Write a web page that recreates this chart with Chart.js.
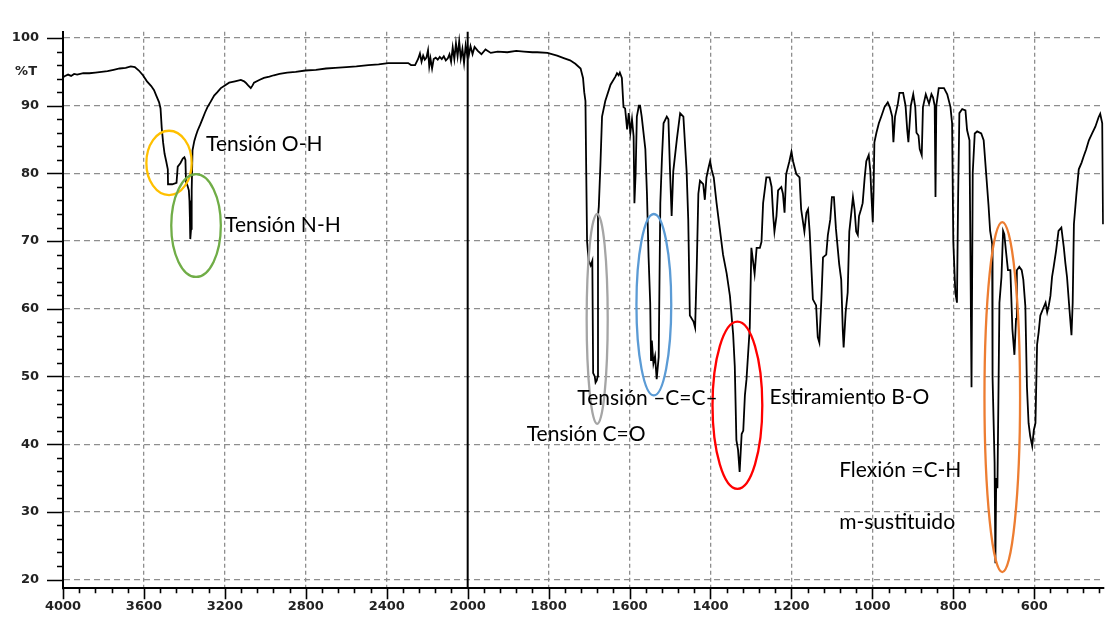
<!DOCTYPE html>
<html>
<head>
<meta charset="utf-8">
<script src="https://cdn.jsdelivr.net/npm/chart.js@4.4.1/dist/chart.umd.min.js"></script>
<style>
  html, body { margin: 0; padding: 0; background: #fff; }
  canvas { display: block; }
</style>
</head>
<body>
<canvas id="ir" width="1110" height="620"></canvas>
<script>
// IR spectrum: wavenumber (cm-1) and transmittance (%T)
const wavenumbers = [
  4000, 3990, 3975, 3960, 3945, 3930, 3900, 3870, 3840, 3810, 3780, 3750, 3720, 3690, 3665, 3645, 3625, 3605, 3585, 3564,
  3550, 3539, 3525, 3518, 3512, 3505, 3498, 3490, 3482, 3481, 3460, 3439, 3433, 3420, 3408, 3400, 3395, 3392, 3385, 3378,
  3375, 3373, 3371, 3367, 3364, 3360, 3351, 3343, 3335, 3322, 3310, 3298, 3286, 3270, 3253, 3237, 3220, 3200, 3179, 3150,
  3121, 3105, 3097, 3085, 3072, 3063, 3056, 3030, 3007, 2980, 2958, 2930, 2892, 2850, 2802, 2750, 2700, 2655, 2600, 2550,
  2491, 2440, 2393, 2294, 2280, 2260, 2245, 2236, 2228, 2220, 2212, 2204, 2196, 2190, 2184, 2176, 2168, 2158, 2148, 2138,
  2128, 2118, 2108, 2098, 2090, 2082, 2074, 2066, 2058, 2050, 2042, 2034, 2026, 2018, 2010, 2004, 2000,
  1997, 1993, 1988, 1983, 1975, 1966, 1956, 1943, 1926, 1902, 1880, 1861, 1840, 1828, 1803, 1779, 1761, 1747, 1734, 1721,
  1715, 1712, 1709, 1707, 1705, 1701, 1696, 1692, 1690, 1686, 1684, 1681, 1679, 1678, 1676, 1672, 1668, 1660, 1647, 1635,
  1631, 1627, 1624, 1619, 1615, 1611, 1606, 1602, 1598, 1594, 1590, 1588, 1585, 1582, 1577, 1574, 1570, 1561, 1557, 1553,
  1549, 1547, 1545, 1541, 1537, 1533, 1528, 1524, 1520, 1516, 1508, 1504, 1500, 1496, 1492, 1483, 1475, 1467, 1459, 1455,
  1451, 1442, 1438, 1434, 1430, 1426, 1418, 1414, 1410, 1405, 1401, 1397, 1392, 1385, 1377, 1369, 1360, 1352, 1344, 1340,
  1336, 1332, 1328, 1323, 1319, 1315, 1311, 1303, 1299, 1291, 1286, 1278, 1274, 1270, 1262, 1254, 1249, 1245, 1242, 1237,
  1233, 1225, 1221, 1217, 1213, 1205, 1200, 1196, 1188, 1180, 1176, 1168, 1163, 1159, 1155, 1147, 1139, 1135, 1131, 1126,
  1122, 1114, 1110, 1104, 1100, 1095, 1090, 1082, 1077, 1073, 1071, 1066, 1061, 1057, 1052, 1048, 1044, 1040, 1036, 1033,
  1028, 1024, 1019, 1015, 1009, 1005, 1003, 999, 997, 995, 990, 984, 978, 970, 962, 957, 951, 948, 944, 937,
  933, 924, 918, 914, 911, 905, 899, 894, 891, 886, 883, 878, 875, 868, 860, 854, 850, 846, 844, 842,
  836, 823, 815, 807, 803, 800, 795, 791, 788, 785, 778, 770, 766, 760, 755, 752, 747, 741, 731, 725,
  719, 713, 709, 704, 703, 698, 696, 694, 691, 688, 686, 681, 677, 674, 670, 665, 659, 654, 649, 645,
  643, 637, 631, 627, 622, 618, 614, 610, 605, 601, 597, 593, 589, 585, 579, 572, 568, 564, 560, 556,
  552, 546, 540, 533, 527, 523, 519, 513, 508, 505, 502, 496, 490, 483, 478, 472, 465, 457, 449, 441,
  437, 432, 430
];
const transmittance = [
  94.2, 94.4, 94.6, 94.4, 94.7, 94.6, 94.8, 94.8, 94.9, 95.0, 95.1, 95.3, 95.5, 95.6, 95.8, 95.7, 95.2, 94.5, 93.6, 92.9,
  92.3, 91.5, 90.5, 89.6, 86.7, 84.5, 82.9, 81.8, 80.6, 78.4, 78.4, 78.6, 81.0, 81.5, 82.2, 82.4, 82.0, 78.7, 78.2, 77.5,
  76.0, 73.5, 70.3, 71.8, 77.5, 83.4, 84.8, 85.6, 86.3, 87.2, 88.1, 89.0, 89.8, 90.6, 91.5, 92.0, 92.6, 93.0, 93.4, 93.6,
  93.8, 93.6, 93.4, 93.0, 92.6, 93.0, 93.4, 93.8, 94.1, 94.3, 94.5, 94.7, 94.9, 95.0, 95.2, 95.3, 95.5, 95.6, 95.7, 95.8,
  96.0, 96.1, 96.3, 96.3, 96.0, 96.0, 96.9, 97.7, 96.5, 97.4, 96.8, 97.1, 98.2, 95.8, 97.0, 95.5, 96.9, 97.1, 96.8, 97.2,
  96.9, 97.3, 96.7, 97.0, 97.6, 96.5, 98.6, 96.9, 99.2, 97.3, 99.5, 97.0, 98.4, 96.3, 98.9, 97.8, 98.6,
  97.5, 98.8, 97.6, 98.7, 98.1, 97.6, 98.3, 97.8, 98.0, 97.9, 98.1, 98.0, 97.9, 97.9, 97.8, 97.4, 97.0, 96.7, 96.2, 95.5,
  94.1, 92.0, 90.7, 80.0, 69.9, 67.1, 66.4, 67.1, 50.5, 50.0, 49.1, 49.4, 50.0, 73.7, 75.1, 81.3, 88.4, 90.7, 93.1, 94.3,
  94.8, 94.5, 94.9, 94.1, 89.8, 89.6, 86.5, 88.9, 86.0, 88.0, 85.5, 75.6, 80.0, 88.4, 90.0, 90.0, 88.4, 83.6, 77.0, 67.6,
  60.9, 52.4, 55.3, 51.9, 53.0, 49.6, 52.9, 75.6, 82.2, 87.4, 88.4, 88.0, 80.3, 73.7, 80.3, 85.1, 88.9, 88.4, 80.3, 73.2,
  59.0, 58.1, 57.2, 66.1, 77.0, 78.9, 78.4, 76.1, 79.4, 80.8, 81.8, 80.5, 79.4, 75.6, 71.8, 68.0, 65.2, 61.9, 56.2, 51.5,
  40.6, 39.2, 35.9, 41.5, 42.0, 47.2, 49.6, 57.2, 69.0, 65.2, 69.0, 69.0, 69.9, 75.6, 79.4, 79.4, 78.0, 73.7, 71.4, 73.7,
  77.5, 78.0, 77.0, 74.2, 79.9, 81.8, 83.2, 81.8, 79.9, 79.4, 74.7, 71.4, 74.2, 74.7, 71.4, 61.4, 60.5, 55.8, 55.0, 61.4,
  67.6, 68.0, 70.9, 73.2, 76.5, 76.5, 71.8, 66.6, 64.3, 56.7, 54.3, 59.5, 62.4, 71.4, 74.2, 76.5, 74.7, 71.4, 70.9, 73.7,
  74.7, 75.6, 79.4, 81.8, 82.7, 80.3, 77.5, 72.8, 77.5, 84.6, 86.0, 87.4, 88.4, 89.8, 90.5, 89.8, 88.4, 84.6, 88.4, 90.3,
  91.9, 91.9, 90.0, 86.5, 84.6, 90.0, 91.7, 89.8, 86.0, 85.6, 83.6, 82.7, 89.8, 91.7, 90.3, 91.7, 91.2, 90.0, 76.5, 90.0,
  92.6, 92.6, 91.7, 89.8, 87.4, 69.9, 62.4, 60.9, 77.0, 88.9, 89.5, 89.3, 86.4, 84.9, 48.4, 80.1, 85.9, 86.2, 85.9, 84.9,
  80.1, 75.3, 71.5, 69.6, 49.8, 37.3, 22.4, 35.0, 33.5, 49.8, 60.9, 64.7, 71.5, 71.0, 68.6, 65.7, 65.7, 57.0, 53.2, 58.5,
  65.7, 66.2, 65.7, 64.3, 60.4, 48.4, 43.1, 41.2, 39.7, 42.1, 43.1, 54.7, 56.6, 59.0, 59.9, 60.9, 59.5, 60.5, 61.9, 64.7,
  66.2, 68.6, 71.5, 72.0, 69.1, 66.7, 64.7, 59.9, 56.1, 60.9, 72.5, 76.8, 80.6, 81.6, 82.5, 83.5, 84.9, 85.9, 86.9, 88.3,
  88.8, 87.4, 72.5
];

// Labelled ticks
const xMajorTicks = [4000, 3600, 3200, 2800, 2400, 2000, 1800, 1600, 1400, 1200, 1000, 800, 600];
const yMajorTicks = [20, 30, 40, 50, 60, 70, 80, 90, 100];

// Band assignments: ellipse bounds in cm-1 / %T
const bandCircles = [
  { from: 3588, to: 3364, top: 86.3, bottom: 76.8, color: '#FFC000' },
  { from: 3465, to: 3220, top: 79.9, bottom: 64.7, color: '#70AD47' },
  { from: 1706, to: 1654, top: 74.0, bottom: 43.0, color: '#A5A5A5' },
  { from: 1583, to: 1497, top: 74.0, bottom: 47.2, color: '#5B9BD5' },
  { from: 1395, to: 1272, top: 58.1, bottom: 33.4, color: '#FF0000' },
  { from: 723,  to: 635,  top: 72.8, bottom: 21.1, color: '#ED7D31' }
];
const bandLabels = [
  { text: 'Tensión O-H',      wn: 3293, t: 83.3 },
  { text: 'Tensión N-H',      wn: 3199, t: 71.4 },
  { text: 'Tensión –C=C–',    wn: 1729, t: 45.8 },
  { text: 'Tensión C=O',      wn: 1854, t: 40.4 },
  { text: 'Estiramiento B-O', wn: 1254, t: 45.9 },
  { text: 'Flexión =C-H',     wn: 1082, t: 35.1 },
  { text: 'm-sustituido',     wn: 1082, t: 27.5 }
];

// The wavenumber axis doubles its scale below 2000 cm-1
const BREAK = 2000;
const toAxis = wn => wn >= BREAK ? 4000 - wn : BREAK + 2 * (BREAK - wn);
const fromAxis = v => v <= BREAK ? 4000 - v : BREAK - (v - BREAK) / 2;
const X_END = 428;

const xTickWn = [];
for (let w = 4000; w >= BREAK; w -= 80) xTickWn.push(w);
for (let w = BREAK - 40; w >= 440; w -= 40) xTickWn.push(w);
const yTickValues = [];
for (let v = 20; v <= 100; v += 2) yTickValues.push(v);

const isMajorX = v => xMajorTicks.includes(Math.round(fromAxis(v)));
const isMajorY = v => yMajorTicks.includes(Math.round(v));

const GRID = '#8e8e8e';
const tickFont = { family: 'DejaVu Sans', size: 13, weight: 'bold' };

const axisDecor = {
  id: 'axisDecor',
  beforeDatasetsDraw(chart) {
    const { ctx, chartArea, scales: { x } } = chart;
    const px = x.getPixelForValue(toAxis(BREAK));
    ctx.save();
    ctx.strokeStyle = '#000';
    ctx.lineWidth = 2;
    ctx.beginPath();
    ctx.moveTo(px, chartArea.top);
    ctx.lineTo(px, chartArea.bottom);
    ctx.stroke();
    ctx.restore();
  },
  afterDraw(chart) {
    const { ctx, chartArea, scales: { x, y } } = chart;
    ctx.save();
    ctx.strokeStyle = '#000';
    ctx.lineWidth = 1.6;
    ctx.beginPath();
    x.ticks.forEach(t => {
      const px = Math.round(x.getPixelForValue(t.value)) + 0.5;
      const len = isMajorX(t.value) ? 11 : 5;
      ctx.moveTo(px, chartArea.bottom);
      ctx.lineTo(px, chartArea.bottom + len);
    });
    y.ticks.forEach(t => {
      const py = Math.round(y.getPixelForValue(t.value)) + 0.5;
      const len = isMajorY(t.value) ? 16 : 6;
      ctx.moveTo(chartArea.left, py);
      ctx.lineTo(chartArea.left - len, py);
    });
    ctx.stroke();
    // axis unit
    ctx.fillStyle = '#222';
    ctx.font = 'bold 13px "DejaVu Sans"';
    ctx.textAlign = 'right';
    ctx.textBaseline = 'middle';
    ctx.fillText('%T', 37, y.getPixelForValue(95));
    ctx.restore();
  }
};

const bandNotes = {
  id: 'bandNotes',
  afterDatasetsDraw(chart) {
    const { ctx, scales: { x, y } } = chart;
    ctx.save();
    ctx.lineWidth = 2.3;
    bandCircles.forEach(b => {
      const x1 = x.getPixelForValue(toAxis(b.from));
      const x2 = x.getPixelForValue(toAxis(b.to));
      const y1 = y.getPixelForValue(b.top);
      const y2 = y.getPixelForValue(b.bottom);
      ctx.strokeStyle = b.color;
      ctx.beginPath();
      ctx.ellipse((x1 + x2) / 2, (y1 + y2) / 2, Math.abs(x2 - x1) / 2, Math.abs(y2 - y1) / 2, 0, 0, Math.PI * 2);
      ctx.stroke();
    });
    ctx.fillStyle = '#000';
    ctx.font = '21px Lato, "Open Sans", sans-serif';
    ctx.textAlign = 'left';
    ctx.textBaseline = 'alphabetic';
    bandLabels.forEach(l => {
      ctx.fillText(l.text, x.getPixelForValue(toAxis(l.wn)), y.getPixelForValue(l.t));
    });
    ctx.restore();
  }
};

new Chart(document.getElementById('ir'), {
  type: 'line',
  data: {
    datasets: [{
      data: wavenumbers.map((w, i) => ({ x: toAxis(w), y: transmittance[i] })),
      borderColor: '#000',
      borderWidth: 1.8,
      pointRadius: 0,
      tension: 0,
      fill: false
    }]
  },
  options: {
    responsive: false,
    animation: false,
    devicePixelRatio: 1,
    layout: { padding: { top: 15, right: 1, left: 0, bottom: 0 } },
    plugins: { legend: { display: false }, tooltip: { enabled: false } },
    scales: {
      x: {
        type: 'linear',
        min: 0,
        max: toAxis(X_END),
        afterBuildTicks: s => { s.ticks = xTickWn.map(w => ({ value: toAxis(w) })); },
        afterFit: s => { s.height = 26; },
        grid: {
          drawTicks: false,
          lineWidth: 1.3,
          color: c => {
            if (!c.tick) return 'transparent';
            const w = Math.round(fromAxis(c.tick.value));
            return isMajorX(c.tick.value) && w !== 4000 && w !== BREAK ? GRID : 'transparent';
          }
        },
        border: { color: '#000', width: 2, dash: [4, 3] },
        ticks: {
          autoSkip: false,
          maxRotation: 0,
          padding: 11,
          color: '#222',
          font: tickFont,
          callback: v => isMajorX(v) ? String(Math.round(fromAxis(v))) : ''
        }
      },
      y: {
        type: 'linear',
        min: 18.72,
        max: 100.92,
        afterBuildTicks: s => { s.ticks = yTickValues.map(v => ({ value: v })); },
        afterFit: s => { s.width = 63; },
        grid: {
          drawTicks: false,
          lineWidth: 1.3,
          color: c => (c.tick && isMajorY(c.tick.value)) ? GRID : 'transparent'
        },
        border: { color: '#000', width: 2, dash: [6, 4] },
        ticks: {
          autoSkip: false,
          padding: 24,
          color: '#222',
          font: tickFont,
          callback: v => isMajorY(v) ? String(v) : ''
        }
      }
    }
  },
  plugins: [axisDecor, bandNotes]
});
</script>
</body>
</html>
